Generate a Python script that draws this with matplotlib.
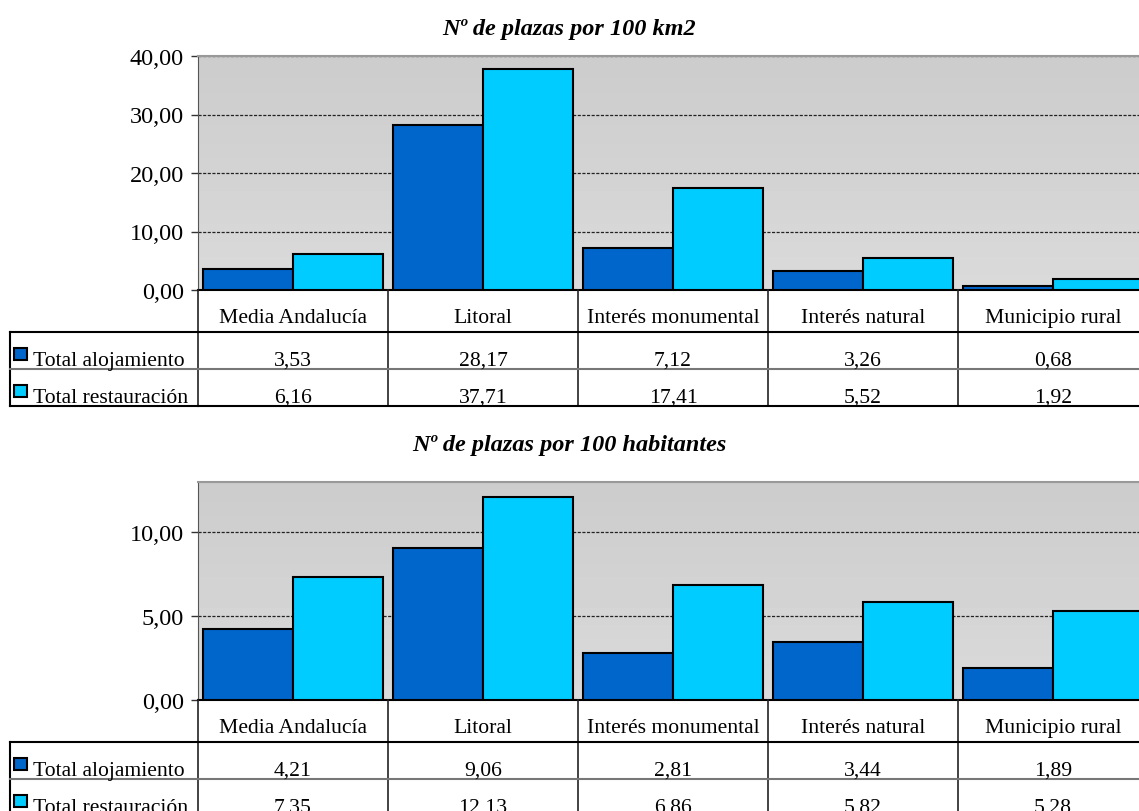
import numpy as np
import matplotlib
matplotlib.use('Agg')
import matplotlib.pyplot as plt
from matplotlib.patches import Rectangle
from matplotlib.transforms import blended_transform_factory

plt.rcParams['font.family'] = ['Liberation Serif', 'DejaVu Serif']

# datos
categorias = ['Media Andalucía', 'Litoral', 'Interés monumental', 'Interés natural', 'Municipio rural']
series = ['Total alojamiento', 'Total restauración']
colores = ['#0066cc', '#00ccff']

km2_alojamiento = [3.53, 28.17, 7.12, 3.26, 0.68]
km2_restauracion = [6.16, 37.71, 17.41, 5.52, 1.92]
hab_alojamiento = [4.21, 9.06, 2.81, 3.44, 1.89]
hab_restauracion = [7.35, 12.13, 6.86, 5.82, 5.28]

titulo_km2 = 'Nº de plazas por 100 km2'
titulo_hab = 'Nº de plazas por 100 habitantes'

W, H = 1139, 812
fig = plt.figure(figsize=(W / 100, H / 100), dpi=100)

# capa en pixeles para la tabla
over = fig.add_axes([0, 0, 1, 1], zorder=5)
over.set_xlim(0, W)
over.set_ylim(H, 0)
over.axis('off')


def coma(v, pos=None):
    return f'{v:.2f}'.replace('.', ',')


def panel(titulo, y_titulo, top, zero, ymax, ticks, vals):
    ax = fig.add_axes([198 / W, 1 - zero / H, (1148 - 198) / W, (zero - top) / H])
    # fondo degradado gris (mas oscuro arriba)
    grad = np.linspace(0.80, 0.855, 64).reshape(-1, 1)
    ax.imshow(grad, cmap='gray', vmin=0, vmax=1, extent=[0, 1, 0, 1],
              transform=ax.transAxes, aspect='auto', zorder=0)
    x = np.arange(len(categorias))
    w = 0.4737
    for i, (v, c) in enumerate(zip(vals, colores)):
        ax.bar(x + (i - 0.5) * w, v, width=w, color=c, edgecolor='black',
               linewidth=1.5, zorder=3)
    ax.set_xlim(-0.5, len(categorias) - 0.5)
    ax.set_ylim(0, ymax)
    ax.set_yticks(ticks)
    ax.yaxis.set_major_formatter(plt.FuncFormatter(coma))
    ax.set_xticks([])
    ax.tick_params(axis='y', length=5, width=1, pad=5, labelsize=17.5, colors='#333333',
                   labelcolor='black')
    ax.set_axisbelow(True)
    ax.yaxis.grid(True, color='#222222', linestyle=(0, (2.5, 1.2)), linewidth=0.9)
    for s in ['top', 'right']:
        ax.spines[s].set_color('#999999')
        ax.spines[s].set_linewidth(1.5)
    ax.spines['left'].set_color('#555555')
    ax.spines['bottom'].set_color('black')
    ax.spines['bottom'].set_linewidth(1.5)

    fig.text(0.5, 1 - y_titulo / H, titulo, ha='center', va='center',
             fontsize=17.5, fontweight='bold', fontstyle='italic')

    # tabla de datos
    tr = blended_transform_factory(ax.transData, over.transData)
    filas = [zero, zero + 42, zero + 79, zero + 116]
    bordes = np.arange(len(categorias) + 1) - 0.5
    for b in bordes:
        over.plot([b, b], [filas[0], filas[3]], color='#222222', lw=1.2,
                  transform=tr, clip_on=False)
    over.plot([10, 198], [filas[1], filas[1]], color='black', lw=1.5, clip_on=False)
    over.plot([10, 10], [filas[1], filas[3]], color='black', lw=1.5, clip_on=False)
    over.plot([10, 198], [filas[2], filas[2]], color='#777777', lw=1.5, clip_on=False)
    over.plot([10, 198], [filas[3], filas[3]], color='black', lw=1.5, clip_on=False)
    over.plot([bordes[0], bordes[-1]], [filas[1], filas[1]], color='black', lw=1.5,
              transform=tr, clip_on=False)
    over.plot([bordes[0], bordes[-1]], [filas[2], filas[2]], color='#777777', lw=1.5,
              transform=tr, clip_on=False)
    over.plot([bordes[0], bordes[-1]], [filas[3], filas[3]], color='black', lw=1.5,
              transform=tr, clip_on=False)
    for xi, cat in zip(x, categorias):
        over.text(xi, filas[1] - 10, cat, ha='center', va='baseline', fontsize=15.6,
                  transform=tr, clip_on=False)
    for r, (nombre, v, c) in enumerate(zip(series, vals, colores)):
        base = filas[r + 2] - 4
        over.add_patch(Rectangle((14, base - 17), 13, 12, facecolor=c,
                                 edgecolor='black', lw=1.5, clip_on=False))
        over.text(33, base, nombre, ha='left', va='baseline', fontsize=15.6)
        for xi, val in zip(x, v):
            over.text(xi, base, coma(val), ha='center', va='baseline', fontsize=15.6,
                      transform=tr, clip_on=False)
    return ax


panel(titulo_km2, 29, 57, 291, 40, [0, 10, 20, 30, 40],
      [km2_alojamiento, km2_restauracion])
panel(titulo_hab, 446, 483, 701, 13, [0, 5, 10],
      [hab_alojamiento, hab_restauracion])

fig.savefig('out.png', dpi=100)
